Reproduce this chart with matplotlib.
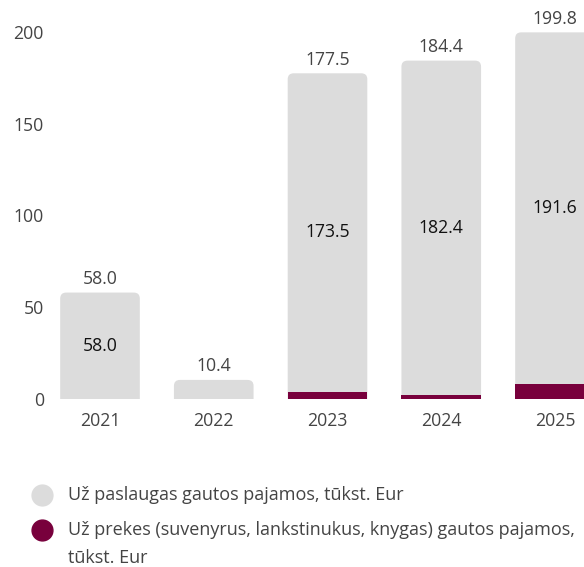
import matplotlib
matplotlib.use("Agg")
import matplotlib.pyplot as plt
from matplotlib.patches import FancyBboxPatch
from matplotlib.lines import Line2D

years = ["2021", "2022", "2023", "2024", "2025"]
services = [58.0, 10.4, 173.5, 182.4, 191.6]
goods = [0.0, 0.0, 4.0, 2.0, 8.2]
totals = [58.0, 10.4, 177.5, 184.4, 199.8]
show_inner = [True, False, True, True, True]
legend_labels = ["Už paslaugas gautos pajamos, tūkst. Eur",
                 "Už prekes (suvenyrus, lankstinukus, knygas) gautos pajamos,\ntūkst. Eur"]

GREY = "#dcdcdc"
MAROON = "#78003c"
TXT = "#444444"
legend_colors = [GREY, MAROON]

plt.rcParams['font.family'] = ['Open Sans', 'DejaVu Sans']
FS = 12.7

W, H = 584, 567
fig = plt.figure(figsize=(W / 100, H / 100), dpi=100)
ax_left, ax_right, ax_bottom, ax_top = 55, 584, 399, 21
ax = fig.add_axes([ax_left / W, (H - ax_bottom) / H, (ax_right - ax_left) / W, (ax_bottom - ax_top) / H])

x = list(range(len(years)))
xpx = 113.75
ypx = 1.835
ax.set_xlim((ax_left - 100) / xpx, (ax_right - 100) / xpx)
ax.set_ylim(0, (ax_bottom - ax_top) / ypx)

width = 0.70
bars = ax.bar(x, services, width=width, bottom=goods, color=GREY, zorder=2)
r = 6 / xpx
aspect = (1 / ypx) / (1 / xpx)
for b in bars:
    x0, y0, w, h = b.get_x(), b.get_y(), b.get_width(), b.get_height()
    b.set_visible(False)
    ext = r * aspect * 2
    p = FancyBboxPatch((x0, y0 - ext), w, h + ext,
                       boxstyle=f"round,pad=0,rounding_size={r}",
                       mutation_aspect=aspect, facecolor=GREY, edgecolor="none",
                       zorder=2, clip_on=True)
    ax.add_patch(p)
ax.bar(x, goods, width=width, color=MAROON, zorder=3)

for i in x:
    ax.text(i, totals[i] + 2.5, f"{totals[i]:.1f}", ha="center", va="bottom",
            fontsize=FS, color=TXT, clip_on=False)
    if show_inner[i]:
        ax.text(i, goods[i] + services[i] / 2, f"{services[i]:.1f}", ha="center",
                va="center", fontsize=FS, color="#111111", zorder=4)

ax.set_xticks(x)
ax.set_xticklabels(years)
ax.set_yticks([0, 50, 100, 150, 200])
ax.tick_params(axis="both", length=0, labelsize=FS, labelcolor=TXT)
ax.tick_params(axis="x", pad=9)
ax.tick_params(axis="y", pad=8)
for s in ax.spines.values():
    s.set_visible(False)

# manual legend
entry_y = [495, 530]
line_gap = 28
for lab, col, yy in zip(legend_labels, legend_colors, entry_y):
    fig.add_artist(Line2D([42 / W], [1 - yy / H], transform=fig.transFigure,
                          marker="o", linestyle="none", markersize=15,
                          markerfacecolor=col, markeredgecolor=col))
    for k, line in enumerate(lab.split("\n")):
        fig.text(68 / W, 1 - (yy + k * line_gap) / H, line, ha="left",
                 va="center", fontsize=13, color=TXT)

fig.savefig("out.png", dpi=100)
